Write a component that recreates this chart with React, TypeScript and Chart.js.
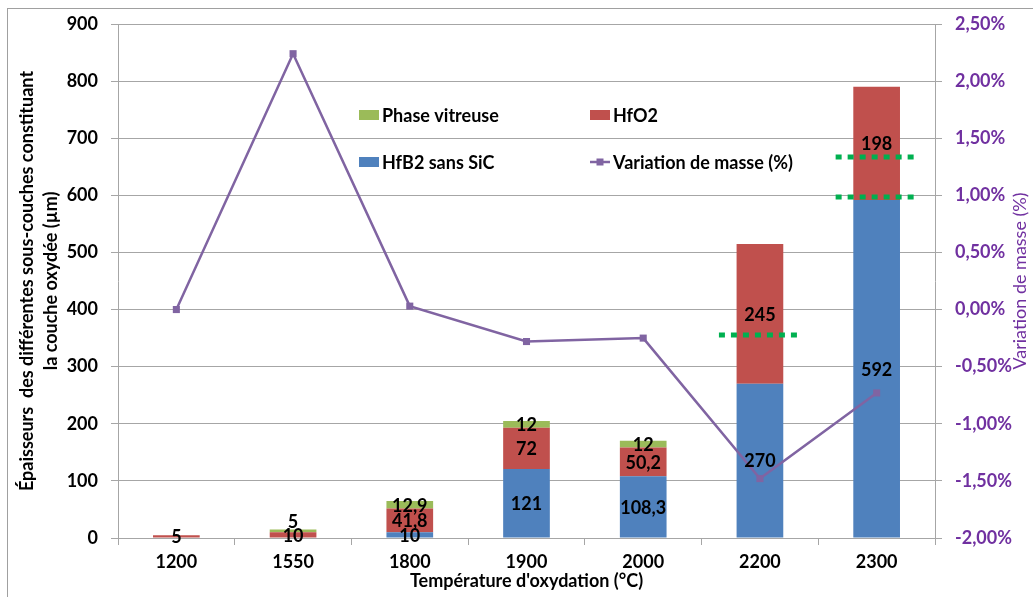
import { useEffect, useRef } from 'react';
import { Chart, registerables } from 'chart.js';

Chart.register(...registerables);

const categories = ['1200', '1550', '1800', '1900', '2000', '2200', '2300'];
const hfb2SansSiC = [null, null, 10, 121, 108.3, 270, 592];
const hfo2 = [5, 10, 41.8, 72, 50.2, 245, 198];
const phaseVitreuse = [null, 5, 12.9, 12, 12, null, null];
const variationMasse = [0, 2.24, 0.03, -0.28, -0.25, -1.48, -0.73];

const leftMin = 0;
const leftMax = 900;
const leftStep = 100;
const rightMin = -2;
const rightMax = 2.5;
const rightStep = 0.5;

const markerCategories = ['2200', '2300', '2300'];
const markerValues = [355, 667, 597];

const FONT = "Lato, 'Open Sans', sans-serif";
const BLUE = '#4f81bd';
const RED = '#c0504d';
const GREEN = '#9bbb59';
const PURPLE_LINE = '#8064a2';
const PURPLE_TEXT = '#7030a0';
const GRID = '#a6a6a6';
const MARK_GREEN = '#00b050';

const fmt = (v: number) => String(v).replace('.', ',');

const dataLabelPlugin = {
  id: 'stackLabels',
  afterDatasetsDraw(chart: any) {
    const ctx = chart.ctx;
    ctx.save();
    ctx.font = `bold 18px ${FONT}`;
    ctx.fillStyle = '#000';
    ctx.textAlign = 'center';
    ctx.textBaseline = 'middle';
    for (let i = 0; i < categories.length; i++) {
      let prevY = Infinity;
      for (let d = 0; d < 3; d++) {
        const ds = chart.data.datasets[d];
        const v = ds.data[i];
        if (v == null) continue;
        const el = chart.getDatasetMeta(d).data[i];
        const p = el.getProps(['x', 'y', 'base'], true);
        let cy = (p.y + p.base) / 2 + 1;
        if (cy > prevY - 14) cy = prevY - 14;
        ctx.fillText(fmt(v), p.x, cy);
        prevY = cy;
      }
    }
    ctx.restore();
  },
};

const markerPlugin = {
  id: 'greenMarkers',
  afterDraw(chart: any) {
    const ctx = chart.ctx;
    const xs = chart.scales.x;
    const ys = chart.scales.y;
    ctx.save();
    ctx.strokeStyle = MARK_GREEN;
    ctx.lineWidth = 5;
    ctx.setLineDash([6, 6]);
    ctx.lineCap = 'butt';
    for (let k = 0; k < markerValues.length; k++) {
      const idx = categories.indexOf(markerCategories[k]);
      const cx = xs.getPixelForValue(idx);
      const y = Math.round(ys.getPixelForValue(markerValues[k]));
      ctx.beginPath();
      ctx.moveTo(cx - 41, y);
      ctx.lineTo(cx + 41, y);
      ctx.stroke();
    }
    ctx.restore();
  },
};

const decorPlugin = {
  id: 'decor',
  afterDraw(chart: any) {
    const ctx = chart.ctx;
    const a = chart.chartArea;
    const midY = (a.top + a.bottom) / 2;
    const midX = (a.left + a.right) / 2;
    ctx.save();
    // Axis titles
    ctx.fillStyle = '#000';
    ctx.font = `bold 18px ${FONT}`;
    ctx.textAlign = 'center';
    ctx.textBaseline = 'middle';
    ctx.fillText("Température d'oxydation (°C)", midX, 581);

    ctx.save();
    ctx.translate(27, midY);
    ctx.rotate(-Math.PI / 2);
    ctx.fillText('Épaisseurs  des différentes sous-couches constituant', 0, 0);
    ctx.restore();
    ctx.save();
    ctx.translate(51, midY);
    ctx.rotate(-Math.PI / 2);
    ctx.fillText('la couche oxydée (µm)', 0, 0);
    ctx.restore();

    ctx.save();
    ctx.fillStyle = PURPLE_TEXT;
    ctx.font = `18px ${FONT}`;
    ctx.translate(1020, midY);
    ctx.rotate(-Math.PI / 2);
    ctx.fillText('Variation de masse (%)', 0, 0);
    ctx.restore();

    // Legend
    const col1 = a.left + 241;
    const col2 = a.left + 472;
    const row1 = a.top + 91;
    const row2 = a.top + 138;
    ctx.font = `bold 18px ${FONT}`;
    ctx.textAlign = 'left';
    ctx.fillStyle = '#000';
    const box = (x: number, y: number, color: string, label: string) => {
      ctx.fillStyle = color;
      ctx.fillRect(x, y - 5, 20, 10);
      ctx.fillStyle = '#000';
      ctx.fillText(label, x + 23, y + 1);
    };
    box(col1, row1, GREEN, 'Phase vitreuse');
    box(col2, row1, RED, 'HfO2');
    box(col1, row2, BLUE, 'HfB2 sans SiC');
    ctx.strokeStyle = PURPLE_LINE;
    ctx.lineWidth = 2.5;
    ctx.beginPath();
    ctx.moveTo(col2, row2);
    ctx.lineTo(col2 + 20, row2);
    ctx.stroke();
    ctx.fillStyle = PURPLE_LINE;
    ctx.fillRect(col2 + 6.5, row2 - 3.5, 7, 7);
    ctx.fillStyle = '#000';
    ctx.fillText('Variation de masse (%)', col2 + 23, row2 + 1);
    ctx.restore();
  },
};

export default function App() {
  const ref = useRef<HTMLCanvasElement | null>(null);

  useEffect(() => {
    document.body.style.margin = '0';
    const canvas = ref.current;
    if (!canvas) return;
    const tickFont = { family: FONT, size: 18, weight: 'bold' as const };
    const chart = new Chart(canvas, {
      type: 'bar',
      data: {
        labels: categories,
        datasets: [
          { type: 'bar', label: 'HfB2 sans SiC', data: hfb2SansSiC as any, backgroundColor: BLUE, yAxisID: 'y', order: 1 },
          { type: 'bar', label: 'HfO2', data: hfo2 as any, backgroundColor: RED, yAxisID: 'y', order: 1 },
          { type: 'bar', label: 'Phase vitreuse', data: phaseVitreuse as any, backgroundColor: GREEN, yAxisID: 'y', order: 1 },
          {
            type: 'line',
            label: 'Variation de masse (%)',
            data: variationMasse,
            yAxisID: 'y1',
            borderColor: PURPLE_LINE,
            backgroundColor: PURPLE_LINE,
            borderWidth: 2.5,
            pointStyle: 'rect',
            pointRadius: 5,
            pointBorderWidth: 0,
            tension: 0,
            order: 0,
          } as any,
        ],
      },
      options: {
        animation: false,
        responsive: false,
        maintainAspectRatio: false,
        layout: { padding: { top: 24, left: 0, right: 0, bottom: 0 } },
        datasets: { bar: { categoryPercentage: 1, barPercentage: 0.4 } } as any,
        plugins: {
          legend: { display: false },
          tooltip: { enabled: false },
        },
        scales: {
          x: {
            stacked: true,
            offset: true,
            grid: { offset: true, drawOnChartArea: false, drawTicks: true, tickLength: 7, color: GRID },
            border: { color: GRID },
            ticks: { color: '#000', font: tickFont, padding: 6, maxRotation: 0, autoSkip: false },
            afterFit: (s: any) => { s.height = 59; },
          },
          y: {
            stacked: true,
            position: 'left',
            min: leftMin,
            max: leftMax,
            ticks: { stepSize: leftStep, color: '#000', font: tickFont, padding: 13 },
            grid: { color: GRID, tickLength: 7 },
            border: { color: GRID },
            afterFit: (s: any) => { s.width = 118; },
          },
          y1: {
            position: 'right',
            min: rightMin,
            max: rightMax,
            ticks: {
              stepSize: rightStep,
              color: PURPLE_TEXT,
              font: tickFont,
              padding: 13,
              callback: (v: any) => Number(v).toFixed(2).replace('.', ',') + '%',
            },
            grid: { drawOnChartArea: false, tickLength: 7, color: GRID },
            border: { color: GRID },
            afterFit: (s: any) => { s.width = 98; },
          },
        } as any,
      },
      plugins: [dataLabelPlugin, markerPlugin, decorPlugin],
    });
    return () => chart.destroy();
  }, []);

  return (
    <div style={{ position: 'relative', width: 1033, height: 597, overflow: 'hidden', background: '#fff' }}>
      <canvas ref={ref} width={1033} height={597} style={{ display: 'block' }} />
      <div
        style={{
          position: 'absolute',
          left: 7,
          top: 8,
          width: 1100,
          height: 700,
          border: '1px solid #a0a0a0',
          pointerEvents: 'none',
        }}
      />
    </div>
  );
}
